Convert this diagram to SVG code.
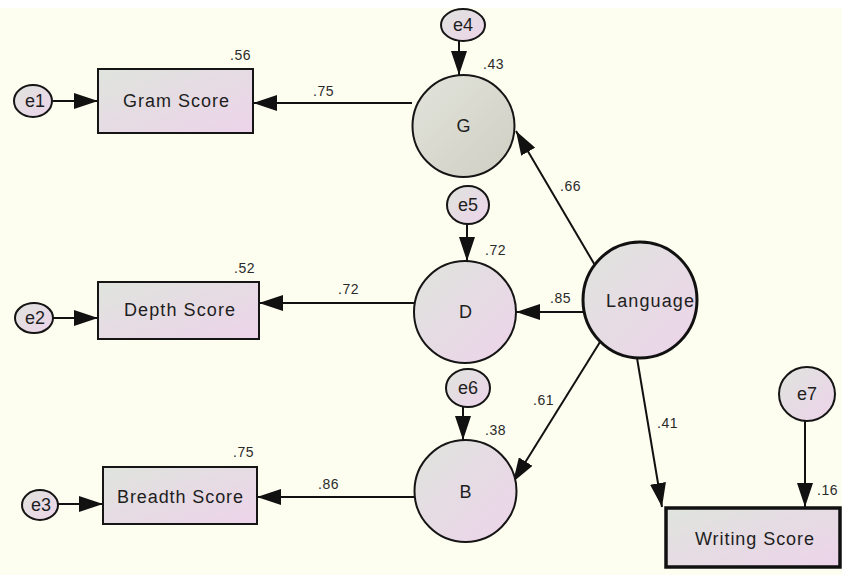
<svg xmlns="http://www.w3.org/2000/svg" width="842" height="575" viewBox="0 0 842 575">
<style>
.lbl{font-family:"Liberation Sans",Arial,sans-serif;font-size:18px;fill:#1e1e1e;text-anchor:middle}
.num{font-family:"Liberation Sans",Arial,sans-serif;font-size:14px;fill:#2a2a2a;letter-spacing:0.5px}
.nd{stroke:#151515;stroke-width:2}
.cn{stroke:#111;stroke-width:2;fill:none;marker-end:url(#ah)}
</style>
<defs>
<linearGradient id="gr" x1="0" y1="0" x2="1" y2="1">
<stop offset="0" stop-color="#DFE4DD"/><stop offset="1" stop-color="#EDD3EA"/>
</linearGradient>
<linearGradient id="gg" x1="0" y1="0" x2="1" y2="1">
<stop offset="0" stop-color="#E2E3DA"/><stop offset="1" stop-color="#CFCFC4"/>
</linearGradient>
<marker id="ah" markerUnits="userSpaceOnUse" markerWidth="24" markerHeight="16" refX="24" refY="8" orient="auto">
<path d="M0,0 L24,8 L0,16 z" fill="#111"/>
</marker>
</defs>
<rect width="842" height="575" fill="#FEFEF0"/>
<rect width="842" height="8" fill="#FFFFFF"/>

<g id="connectors">
<line class="cn" x1="53" y1="101" x2="98" y2="101"/>
<line class="cn" x1="53" y1="318" x2="98" y2="318"/>
<line class="cn" x1="58" y1="504" x2="103" y2="504"/>
<line class="cn" x1="412" y1="103" x2="253" y2="103"/>
<line class="cn" x1="414" y1="303" x2="259" y2="303"/>
<line class="cn" x1="415" y1="497" x2="257" y2="497"/>
<line class="cn" x1="459" y1="41" x2="459" y2="75"/>
<line class="cn" x1="467" y1="224" x2="467" y2="261"/>
<line class="cn" x1="463" y1="407" x2="463" y2="440"/>
<line class="cn" x1="596" y1="267" x2="516" y2="131"/>
<line class="cn" x1="583" y1="312" x2="516" y2="312"/>
<line class="cn" x1="600" y1="342" x2="513" y2="482"/>
<line class="cn" x1="637" y1="358" x2="662" y2="507"/>
<line class="cn" x1="805" y1="421" x2="805" y2="507"/>
<text class="num" x="313" y="96">.75</text>
<text class="num" x="338" y="294">.72</text>
<text class="num" x="318" y="489">.86</text>
<text class="num" x="560" y="191">.66</text>
<text class="num" x="550" y="303">.85</text>
<text class="num" x="533" y="405">.61</text>
<text class="num" x="657" y="428">.41</text>
</g>

<g id="e1"><ellipse class="nd" cx="33" cy="101" rx="19" ry="16" fill="url(#gr)"/><text class="lbl" x="35" y="107">e1</text></g>
<g id="e2"><ellipse class="nd" cx="34" cy="318" rx="19" ry="15" fill="url(#gr)"/><text class="lbl" x="35" y="324">e2</text></g>
<g id="e3"><ellipse class="nd" cx="40" cy="505" rx="18" ry="15" fill="url(#gr)"/><text class="lbl" x="41" y="511">e3</text></g>
<g id="e4"><ellipse class="nd" cx="463" cy="25" rx="22" ry="16" fill="url(#gr)"/><text class="lbl" x="463" y="31">e4</text></g>
<g id="e5"><ellipse class="nd" cx="468" cy="205" rx="21" ry="19" fill="url(#gr)"/><text class="lbl" x="468" y="211">e5</text></g>
<g id="e6"><ellipse class="nd" cx="468" cy="388" rx="22" ry="19" fill="url(#gr)"/><text class="lbl" x="468" y="394">e6</text></g>
<g id="e7"><ellipse class="nd" cx="807" cy="394" rx="28" ry="27" fill="url(#gr)"/><text class="lbl" x="807" y="400">e7</text></g>

<g id="gram"><rect class="nd" x="98" y="69" width="155" height="64" fill="url(#gr)"/><text class="lbl" x="176" y="107" textLength="106">Gram Score</text><text class="num" x="230" y="60">.56</text></g>
<g id="depth"><rect class="nd" x="98" y="282" width="161" height="57" fill="url(#gr)"/><text class="lbl" x="179.5" y="316" textLength="111">Depth Score</text><text class="num" x="234" y="273">.52</text></g>
<g id="breadth"><rect class="nd" x="103" y="467" width="154" height="57" fill="url(#gr)"/><text class="lbl" x="180" y="503" textLength="126">Breadth Score</text><text class="num" x="233" y="457">.75</text></g>

<g id="G"><circle class="nd" cx="463.5" cy="126" r="51" fill="url(#gg)"/><text class="lbl" x="463.5" y="132">G</text><text class="num" x="483" y="69">.43</text></g>
<g id="D"><circle class="nd" cx="465" cy="312" r="51" fill="url(#gr)"/><text class="lbl" x="465.5" y="318">D</text><text class="num" x="485" y="255">.72</text></g>
<g id="B"><circle class="nd" cx="465.5" cy="491" r="51" fill="url(#gr)"/><text class="lbl" x="465.5" y="498">B</text><text class="num" x="485" y="435">.38</text></g>

<g id="language"><ellipse cx="640" cy="300" rx="57" ry="58" fill="url(#gr)" stroke="#111" stroke-width="3"/><text class="lbl" x="650" y="307" textLength="88">Language</text></g>
<g id="writing"><rect x="666" y="508" width="174" height="59" fill="url(#gr)" stroke="#111" stroke-width="3.5"/><text class="lbl" x="754.5" y="545" textLength="119">Writing Score</text><text class="num" x="817" y="495">.16</text></g>
</svg>
